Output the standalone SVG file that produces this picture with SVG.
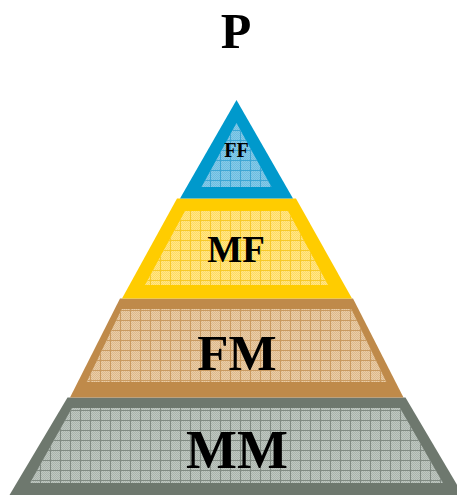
<svg xmlns="http://www.w3.org/2000/svg" width="457" height="495" viewBox="0 0 457 495">
<style>
.lbl{font-family:"Liberation Serif","Times New Roman",serif;font-weight:bold;fill:#000;text-anchor:middle}
</style>
<defs>
<pattern id="ckB" width="2" height="2" patternUnits="userSpaceOnUse"><rect width="2" height="2" fill="#86CBE8"/><rect width="1" height="1" fill="#6DBCE0"/><rect x="1" y="1" width="1" height="1" fill="#6DBCE0"/></pattern>
<pattern id="ckY" width="2" height="2" patternUnits="userSpaceOnUse"><rect width="2" height="2" fill="#FFE68A"/><rect width="1" height="1" fill="#FFDB60"/><rect x="1" y="1" width="1" height="1" fill="#FFDB60"/></pattern>
<pattern id="ckR" width="2" height="2" patternUnits="userSpaceOnUse"><rect width="2" height="2" fill="#E9CDA8"/><rect width="1" height="1" fill="#DDB98C"/><rect x="1" y="1" width="1" height="1" fill="#DDB98C"/></pattern>
<pattern id="ckG" width="2" height="2" patternUnits="userSpaceOnUse"><rect width="2" height="2" fill="#BFC7C1"/><rect width="1" height="1" fill="#AAB4AC"/><rect x="1" y="1" width="1" height="1" fill="#AAB4AC"/></pattern>
<pattern id="grB" width="10" height="10" patternUnits="userSpaceOnUse"><path d="M0 0.5H10M0.5 0V10" stroke="#3DA6D4" stroke-width="1"/></pattern>
<pattern id="grY" width="10" height="10" patternUnits="userSpaceOnUse"><path d="M0 0.5H10M0.5 0V10" stroke="#F7C928" stroke-width="1"/></pattern>
<pattern id="grR" width="10" height="10" patternUnits="userSpaceOnUse"><path d="M0 0.5H10M0.5 0V10" stroke="#C99A60" stroke-width="1"/></pattern>
<pattern id="grG" width="10" height="10" patternUnits="userSpaceOnUse"><path d="M0 0.5H10M0.5 0V10" stroke="#808A82" stroke-width="1"/></pattern>
</defs>
<rect width="457" height="495" fill="#fff"/>
<text class="lbl" x="236" y="48" font-size="50">P</text>

<g id="MM">
<polygon points="67.5,397.5 405.5,397.5 463,495 9.5,495" fill="#6E786E"/>
<polygon points="72,408 400,408 443,483 30,483" fill="url(#ckG)"/>
<polygon points="72,408 400,408 443,483 30,483" fill="url(#grG)"/>
<text class="lbl" x="237" y="468" font-size="54">MM</text>
</g>
<g id="FM">
<polygon points="120,298.5 353,298.5 403.5,397.5 70,397.5" fill="#BF8A4A"/>
<polygon points="121.7,309 351.3,309 386.3,382 86.7,382" fill="url(#ckR)"/>
<polygon points="121.7,309 351.3,309 386.3,382 86.7,382" fill="url(#grR)"/>
<text class="lbl" x="237" y="370" font-size="51">FM</text>
</g>
<g id="MF">
<polygon points="177,198.5 296,198.5 352,298.5 122,298.5" fill="#FFCC00"/>
<polygon points="185,211 288,211 328,285 145,285" fill="url(#ckY)"/>
<polygon points="185,211 288,211 328,285 145,285" fill="url(#grY)"/>
<text class="lbl" x="236" y="262" font-size="37">MF</text>
</g>
<g id="FF">
<polygon points="236.5,100 293,198.5 180,198.5" fill="#0099CC"/>
<polygon points="236.5,123 271.5,187 201.5,187" fill="url(#ckB)"/>
<polygon points="236.5,123 271.5,187 201.5,187" fill="url(#grB)"/>
<text class="lbl" x="236.5" y="157" font-size="20">FF</text>
</g>
</svg>
